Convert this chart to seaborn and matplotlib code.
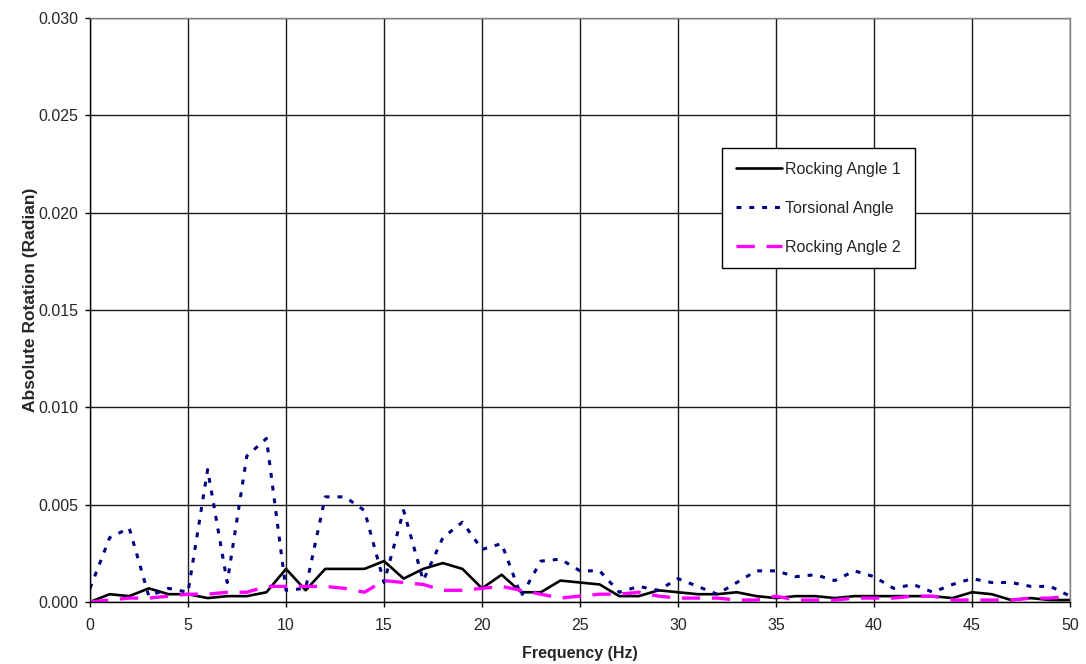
import matplotlib
matplotlib.use("Agg")
import matplotlib.pyplot as plt
import seaborn as sns
import pandas as pd
import numpy as np

freq = list(range(0, 51))

rocking1 = [0.0000, 0.0004, 0.0003, 0.0007, 0.0004, 0.0004, 0.0002, 0.0003, 0.0003, 0.0005,
            0.0017, 0.0006, 0.0017, 0.0017, 0.0017, 0.0021, 0.0012, 0.0017, 0.0020, 0.0017,
            0.0007, 0.0014, 0.0005, 0.0005, 0.0011, 0.0010, 0.0009, 0.0003, 0.0003, 0.0006,
            0.0005, 0.0004, 0.0004, 0.0005, 0.0003, 0.0002, 0.0003, 0.0003, 0.0002, 0.0003,
            0.0003, 0.0003, 0.0003, 0.0003, 0.0002, 0.0005, 0.0004, 0.0001, 0.0002, 0.0001,
            0.0001]

torsional = [0.0007, 0.0033, 0.0038, 0.0003, 0.0007, 0.0005, 0.0068, 0.0010, 0.0075, 0.0084,
             0.0006, 0.0007, 0.0054, 0.0054, 0.0047, 0.0010, 0.0047, 0.0011, 0.0033, 0.0041,
             0.0027, 0.0030, 0.0003, 0.0021, 0.0022, 0.0016, 0.0016, 0.0005, 0.0008, 0.0006,
             0.0012, 0.0008, 0.0004, 0.0010, 0.0016, 0.0016, 0.0013, 0.0014, 0.0011, 0.0016,
             0.0013, 0.0007, 0.0009, 0.0005, 0.0009, 0.0012, 0.0010, 0.0010, 0.0008, 0.0008,
             0.0003]

rocking2 = [0.0000, 0.0001, 0.0002, 0.0002, 0.0003, 0.0004, 0.0004, 0.0005, 0.0005, 0.0008,
            0.0008, 0.0008, 0.0008, 0.0007, 0.0005, 0.0011, 0.0010, 0.0009, 0.0006, 0.0006,
            0.0007, 0.0008, 0.0006, 0.0004, 0.0002, 0.0003, 0.0004, 0.0004, 0.0005, 0.0003,
            0.0002, 0.0002, 0.0002, 0.0001, 0.0001, 0.0003, 0.0001, 0.0001, 0.0001, 0.0002,
            0.0002, 0.0002, 0.0003, 0.0003, 0.0001, 0.0001, 0.0001, 0.0001, 0.0002, 0.0002,
            0.0003]

series_names = ["Rocking Angle 1", "Torsional Angle", "Rocking Angle 2"]
x_ticks = list(range(0, 51, 5))
y_ticks = [0.0, 0.005, 0.010, 0.015, 0.020, 0.025, 0.030]

sns.set_theme(style="white")
plt.rcParams['font.family'] = ['Liberation Sans', 'DejaVu Sans']

df = pd.DataFrame({"freq": freq, series_names[0]: rocking1,
                   series_names[1]: torsional, series_names[2]: rocking2})

fig = plt.figure(figsize=(10.86, 6.64), dpi=100)
ax = fig.add_axes([0.0829, 0.0934, 0.9024, 0.8795])

styles = [
    dict(color="black", lw=1.9, dashes=None),
    dict(color="#000080", lw=2.2, dashes=(1.6, 2.6)),
    dict(color="#FF00FF", lw=2.4, dashes=(5.5, 3.5)),
]

for name, st in zip(series_names, styles):
    sns.lineplot(data=df, x="freq", y=name, ax=ax, color=st["color"],
                 linewidth=st["lw"], label=name)
    line = ax.get_lines()[-1]
    if st["dashes"] is not None:
        line.set_dashes(st["dashes"])
        line.set_dash_capstyle("butt")

ax.set_xlim(0, 50)
ax.set_ylim(0, 0.030)
ax.set_xticks(x_ticks)
ax.set_yticks(y_ticks)
ax.set_xticklabels([str(t) for t in x_ticks], fontsize=11.5)
ax.set_yticklabels([f"{t:.3f}" for t in y_ticks], fontsize=11.5)
ax.grid(True, color="#1a1a1a", linewidth=1.0)
ax.set_axisbelow(True)
for s in ax.spines.values():
    s.set_color("#808080")
    s.set_linewidth(1.0)
ax.spines["left"].set_color("black")
ax.spines["bottom"].set_color("black")
ax.tick_params(axis="both", length=3.6, width=1.0, color="black", direction="out",
               bottom=True, left=True)
ax.tick_params(axis="x", pad=8)
ax.tick_params(axis="y", pad=5)

ax.set_xlabel("Frequency (Hz)", fontsize=11.5, fontweight="bold", labelpad=9)
ax.set_ylabel("Absolute Rotation (Radian)", fontsize=12.5, fontweight="bold")
ax.yaxis.set_label_coords(-0.053, 0.517)

leg = ax.legend(loc="upper left", bbox_to_anchor=(0.645, 0.777), frameon=True,
                fancybox=False, edgecolor="black", framealpha=1, fontsize=11.5,
                handlelength=2.9, handletextpad=0.2, labelspacing=1.5,
                borderpad=0.85, borderaxespad=0)
leg.get_frame().set_linewidth(1.0)

fig.savefig("out.png", dpi=100, facecolor="white")
